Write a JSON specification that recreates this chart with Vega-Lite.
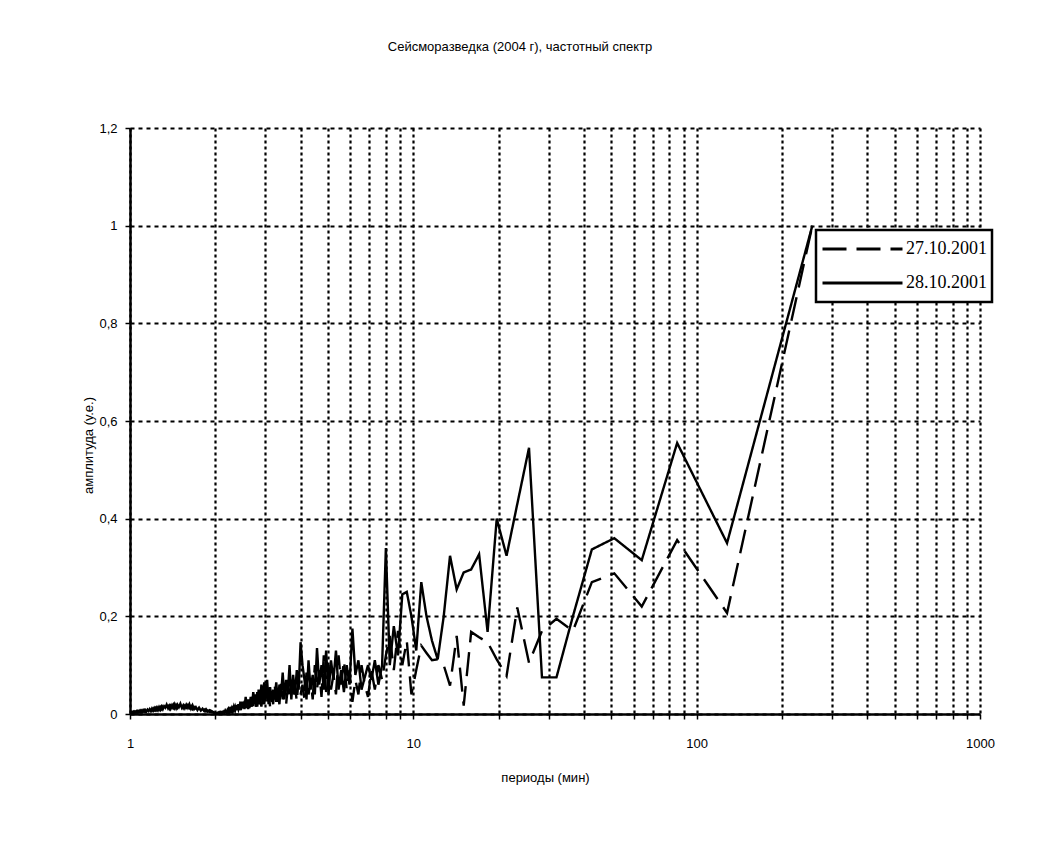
{
"$schema": "https://vega.github.io/schema/vega-lite/v6.json",
"width": 850, "height": 586,
"autosize": "none",
"padding": {"left": 130, "top": 128, "right": 68, "bottom": 135},
"background": "white",
"title": {"text": "Сейсморазведка (2004 г), частотный спектр", "anchor": "middle", "frame": "group", "offset": 55, "dx": -35, "baseline": "bottom", "font": "Liberation Sans", "fontSize": 13, "fontWeight": "normal", "color": "black"},
"data": {"values": [
{"p":256,"a":1.0,"b":1.0},
{"p":128,"a":0.207,"b":0.35},
{"p":85.333,"a":0.356,"b":0.555},
{"p":64,"a":0.22,"b":0.315},
{"p":51.2,"a":0.288,"b":0.36},
{"p":42.667,"a":0.27,"b":0.337},
{"p":36.571,"a":0.17,"b":0.2},
{"p":32,"a":0.195,"b":0.075},
{"p":28.444,"a":0.17,"b":0.075},
{"p":25.6,"a":0.105,"b":0.545},
{"p":23.273,"a":0.218,"b":0.43},
{"p":21.333,"a":0.078,"b":0.324},
{"p":19.692,"a":0.112,"b":0.4},
{"p":18.286,"a":0.147,"b":0.168},
{"p":17.067,"a":0.157,"b":0.327},
{"p":16,"a":0.168,"b":0.296},
{"p":15.059,"a":0.017,"b":0.29},
{"p":14.222,"a":0.16,"b":0.255},
{"p":13.474,"a":0.058,"b":0.324},
{"p":12.8,"a":0.1,"b":0.2},
{"p":12.19,"a":0.112,"b":0.112},
{"p":11.636,"a":0.11,"b":0.15},
{"p":11.13,"a":0.125,"b":0.2},
{"p":10.667,"a":0.14,"b":0.27},
{"p":10.24,"a":0.09,"b":0.13},
{"p":9.846,"a":0.04,"b":0.2},
{"p":9.481,"a":0.15,"b":0.25},
{"p":9.143,"a":0.1,"b":0.245},
{"p":8.828,"a":0.17,"b":0.12},
{"p":8.533,"a":0.09,"b":0.18},
{"p":8.258,"a":0.16,"b":0.1},
{"p":8,"a":0.12,"b":0.34},
{"p":7.758,"a":0.07,"b":0.1},
{"p":7.529,"a":0.1,"b":0.06},
{"p":7.314,"a":0.05,"b":0.11},
{"p":7.111,"a":0.09,"b":0.07},
{"p":6.919,"a":0.035,"b":0.1},
{"p":6.737,"a":0.06,"b":0.075},
{"p":6.564,"a":0.1,"b":0.05},
{"p":6.4,"a":0.04,"b":0.11},
{"p":6.244,"a":0.07,"b":0.08},
{"p":6.095,"a":0.025,"b":0.175},
{"p":5.953,"a":0.09,"b":0.06},
{"p":5.818,"a":0.05,"b":0.1},
{"p":5.689,"a":0.11,"b":0.045},
{"p":5.565,"a":0.06,"b":0.09},
{"p":5.447,"a":0.12,"b":0.05},
{"p":5.333,"a":0.04,"b":0.13},
{"p":5.224,"a":0.08,"b":0.07},
{"p":5.12,"a":0.05,"b":0.11},
{"p":5.02,"a":0.1,"b":0.04},
{"p":4.923,"a":0.045,"b":0.13},
{"p":4.83,"a":0.12,"b":0.05},
{"p":4.741,"a":0.035,"b":0.1},
{"p":4.655,"a":0.09,"b":0.06},
{"p":4.571,"a":0.05,"b":0.135},
{"p":4.491,"a":0.1,"b":0.04},
{"p":4.414,"a":0.03,"b":0.08},
{"p":4.339,"a":0.07,"b":0.05},
{"p":4.267,"a":0.04,"b":0.11},
{"p":4.197,"a":0.085,"b":0.03},
{"p":4.129,"a":0.03,"b":0.07},
{"p":4.063,"a":0.06,"b":0.1},
{"p":4,"a":0.04,"b":0.147},
{"p":3.938,"a":0.075,"b":0.05},
{"p":3.879,"a":0.025,"b":0.09},
{"p":3.821,"a":0.06,"b":0.04},
{"p":3.765,"a":0.035,"b":0.08},
{"p":3.71,"a":0.07,"b":0.03},
{"p":3.657,"a":0.03,"b":0.1},
{"p":3.606,"a":0.055,"b":0.045},
{"p":3.556,"a":0.02,"b":0.07},
{"p":3.507,"a":0.05,"b":0.03},
{"p":3.459,"a":0.03,"b":0.085},
{"p":3.413,"a":0.065,"b":0.04},
{"p":3.368,"a":0.02,"b":0.06},
{"p":3.325,"a":0.045,"b":0.025},
{"p":3.282,"a":0.025,"b":0.065},
{"p":3.241,"a":0.06,"b":0.03},
{"p":3.2,"a":0.02,"b":0.05},
{"p":3.16,"a":0.04,"b":0.025},
{"p":3.122,"a":0.015,"b":0.055},
{"p":3.084,"a":0.045,"b":0.02},
{"p":3.048,"a":0.025,"b":0.07},
{"p":3.012,"a":0.05,"b":0.03},
{"p":2.977,"a":0.02,"b":0.065},
{"p":2.943,"a":0.04,"b":0.025},
{"p":2.909,"a":0.015,"b":0.06},
{"p":2.876,"a":0.035,"b":0.02},
{"p":2.844,"a":0.02,"b":0.05},
{"p":2.813,"a":0.045,"b":0.015},
{"p":2.783,"a":0.015,"b":0.04},
{"p":2.753,"a":0.03,"b":0.02},
{"p":2.723,"a":0.012,"b":0.045},
{"p":2.695,"a":0.035,"b":0.015},
{"p":2.667,"a":0.015,"b":0.035},
{"p":2.639,"a":0.03,"b":0.012},
{"p":2.612,"a":0.01,"b":0.03},
{"p":2.586,"a":0.025,"b":0.015},
{"p":2.56,"a":0.012,"b":0.035},
{"p":2.535,"a":0.028,"b":0.01},
{"p":2.51,"a":0.01,"b":0.025},
{"p":2.485,"a":0.02,"b":0.012},
{"p":2.462,"a":0.008,"b":0.025},
{"p":2.438,"a":0.018,"b":0.01},
{"p":2.415,"a":0.01,"b":0.02},
{"p":2.393,"a":0.02,"b":0.008},
{"p":2.37,"a":0.006,"b":0.018},
{"p":2.349,"a":0.015,"b":0.008},
{"p":2.327,"a":0.008,"b":0.015},
{"p":2.306,"a":0.012,"b":0.005},
{"p":2.286,"a":0.005,"b":0.012},
{"p":2.265,"a":0.01,"b":0.006},
{"p":2.246,"a":0.004,"b":0.01},
{"p":2.226,"a":0.01,"b":0.004},
{"p":2.207,"a":0.004,"b":0.008},
{"p":2.188,"a":0.007,"b":0.003},
{"p":2.169,"a":0.003,"b":0.007},
{"p":2.151,"a":0.006,"b":0.002},
{"p":2.133,"a":0.002,"b":0.005},
{"p":2.116,"a":0.005,"b":0.002},
{"p":2.098,"a":0.002,"b":0.004},
{"p":2.081,"a":0.004,"b":0.001},
{"p":2.065,"a":0.001,"b":0.003},
{"p":2.048,"a":0.003,"b":0.001},
{"p":2.032,"a":0.001,"b":0.002},
{"p":2.016,"a":0.002,"b":0.001},
{"p":2,"a":0.001,"b":0.002},
{"p":1.969,"a":0.003,"b":0.004},
{"p":1.939,"a":0.005,"b":0.006},
{"p":1.91,"a":0.004,"b":0.008},
{"p":1.882,"a":0.007,"b":0.005},
{"p":1.855,"a":0.005,"b":0.01},
{"p":1.829,"a":0.009,"b":0.006},
{"p":1.803,"a":0.006,"b":0.011},
{"p":1.778,"a":0.01,"b":0.007},
{"p":1.753,"a":0.008,"b":0.013},
{"p":1.73,"a":0.012,"b":0.008},
{"p":1.707,"a":0.009,"b":0.014},
{"p":1.684,"a":0.014,"b":0.01},
{"p":1.662,"a":0.01,"b":0.018},
{"p":1.641,"a":0.016,"b":0.011},
{"p":1.62,"a":0.012,"b":0.02},
{"p":1.6,"a":0.018,"b":0.013},
{"p":1.58,"a":0.013,"b":0.019},
{"p":1.561,"a":0.017,"b":0.012},
{"p":1.542,"a":0.012,"b":0.018},
{"p":1.524,"a":0.019,"b":0.013},
{"p":1.506,"a":0.014,"b":0.021},
{"p":1.488,"a":0.02,"b":0.014},
{"p":1.471,"a":0.013,"b":0.019},
{"p":1.455,"a":0.018,"b":0.012},
{"p":1.438,"a":0.012,"b":0.02},
{"p":1.422,"a":0.019,"b":0.013},
{"p":1.407,"a":0.013,"b":0.018},
{"p":1.391,"a":0.017,"b":0.011},
{"p":1.376,"a":0.011,"b":0.017},
{"p":1.362,"a":0.016,"b":0.012},
{"p":1.347,"a":0.012,"b":0.019},
{"p":1.333,"a":0.018,"b":0.013},
{"p":1.32,"a":0.011,"b":0.016},
{"p":1.306,"a":0.015,"b":0.01},
{"p":1.293,"a":0.01,"b":0.015},
{"p":1.28,"a":0.014,"b":0.009},
{"p":1.267,"a":0.009,"b":0.014},
{"p":1.255,"a":0.013,"b":0.008},
{"p":1.243,"a":0.008,"b":0.013},
{"p":1.231,"a":0.012,"b":0.008},
{"p":1.219,"a":0.008,"b":0.012},
{"p":1.208,"a":0.011,"b":0.007},
{"p":1.196,"a":0.007,"b":0.011},
{"p":1.185,"a":0.01,"b":0.006},
{"p":1.174,"a":0.006,"b":0.01},
{"p":1.164,"a":0.009,"b":0.006},
{"p":1.153,"a":0.006,"b":0.009},
{"p":1.143,"a":0.009,"b":0.005},
{"p":1.133,"a":0.005,"b":0.008},
{"p":1.123,"a":0.008,"b":0.005},
{"p":1.113,"a":0.005,"b":0.008},
{"p":1.103,"a":0.007,"b":0.004},
{"p":1.094,"a":0.004,"b":0.007},
{"p":1.085,"a":0.007,"b":0.004},
{"p":1.076,"a":0.004,"b":0.006},
{"p":1.067,"a":0.006,"b":0.003},
{"p":1.058,"a":0.003,"b":0.006},
{"p":1.049,"a":0.005,"b":0.003},
{"p":1.041,"a":0.003,"b":0.005},
{"p":1.032,"a":0.005,"b":0.002},
{"p":1.024,"a":0.002,"b":0.004},
{"p":1.016,"a":0.004,"b":0.002},
{"p":1.008,"a":0.002,"b":0.004},
{"p":1,"a":0.003,"b":0.003}
]},
"transform": [{"fold": ["a", "b"], "as": ["s", "v"]}],
"mark": {"type": "line", "color": "black", "strokeWidth": 2.4, "clip": true},
"encoding": {
  "x": {"field": "p", "type": "quantitative",
    "scale": {"type": "log", "domain": [1, 1000], "nice": false},
    "axis": {"title": "периоды (мин)", "values": [1,2,3,4,5,6,7,8,9,10,20,30,40,50,60,70,80,90,100,200,300,400,500,600,700,800,900,1000],
      "labelExpr": "indexof([1,10,100,1000], datum.value) >= 0 ? toString(datum.value) : ''",
      "labelOverlap": false, "labelFlush": false, "labelPadding": 18, "tickSize": 5,
      "titleX": 415, "titleY": 63, "titleBaseline": "middle", "titleAnchor": "start", "titleAlign": "center",
      "gridDash": [3, 3], "gridWidth": 2.2}},
  "y": {"field": "v", "type": "quantitative",
    "scale": {"domain": [0, 1.2], "nice": false},
    "axis": {"title": "амплитуда (у.е.)", "values": [0,0.2,0.4,0.6,0.8,1,1.2],
      "labelExpr": "replace(toString(datum.value), '.', ',')",
      "labelPadding": 8, "tickSize": 5,
      "titleX": -42, "titleY": 317, "titleBaseline": "middle", "titleAlign": "center", "titleAnchor": "start",
      "gridDash": [4, 4], "gridWidth": 2.2}},
  "strokeDash": {"field": "s", "type": "nominal",
    "scale": {"domain": ["a", "b"], "range": [[24, 10], [1, 0]]},
    "legend": {"title": null, "orient": "none", "legendX": 686, "legendY": 102,
      "labelExpr": "datum.value == 'a' ? '27.10.2001' : '28.10.2001'",
      "symbolType": "stroke", "symbolSize": 6400, "symbolStrokeWidth": 3, "symbolStrokeColor": "black",
      "labelFont": "Liberation Serif", "labelFontSize": 18, "labelColor": "black", "labelOffset": 2,
      "clipHeight": 28, "rowPadding": 6,
      "fillColor": "white", "strokeColor": "black", "padding": 5}}
},
"config": {
  "view": {"stroke": null},
  "legend": {"strokeWidth": 2.5},
  "axis": {"domainColor": "black", "domainWidth": 2.5, "tickColor": "black", "tickWidth": 1.5,
    "gridColor": "black", "gridOpacity": 1,
    "labelFont": "Liberation Sans", "labelFontSize": 13, "labelColor": "black",
    "titleFont": "Liberation Sans", "titleFontSize": 13, "titleFontWeight": "normal", "titleColor": "black"}
}
}
